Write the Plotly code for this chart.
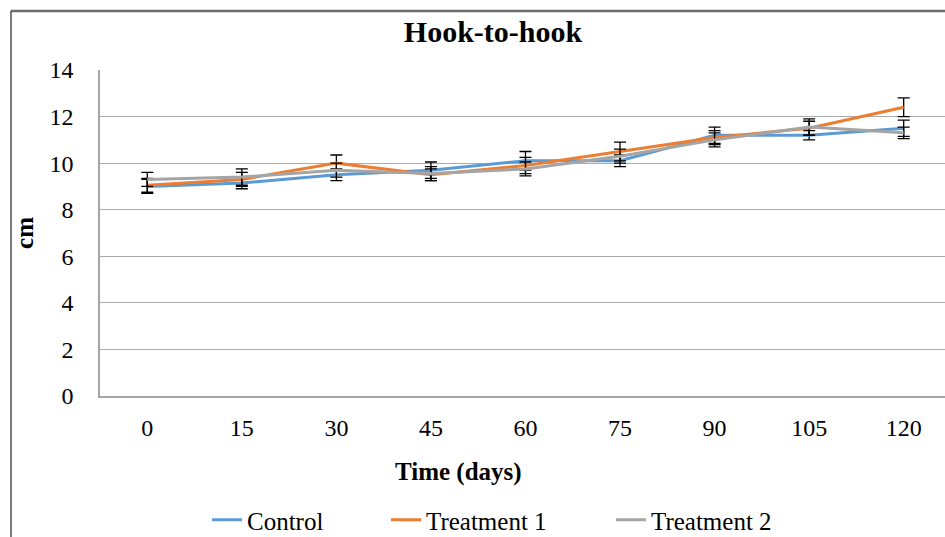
import plotly.graph_objects as go

days = ["0", "15", "30", "45", "60", "75", "90", "105", "120"]
control = [9.0, 9.15, 9.5, 9.7, 10.1, 10.1, 11.2, 11.2, 11.5]
control_err = [0.3, 0.25, 0.25, 0.35, 0.4, 0.25, 0.35, 0.2, 0.35]
treat1 = [9.05, 9.3, 10.0, 9.5, 9.9, 10.5, 11.1, 11.5, 12.4]
treat1_err = [0.3, 0.3, 0.35, 0.25, 0.35, 0.4, 0.3, 0.3, 0.4]
treat2 = [9.3, 9.4, 9.7, 9.55, 9.75, 10.3, 11.0, 11.55, 11.3]
treat2_err = [0.3, 0.35, 0.3, 0.3, 0.3, 0.3, 0.3, 0.35, 0.25]

FONT = "Liberation Serif"

L, T, B = 100, 70, 141
PW, PH = 945 - L, 537 - T - B


def px_x(p):
    return (p - L) / PW


def px_y(p):
    return (537 - B - p) / PH


fig = go.Figure()
legend_ids = ["legend", "legend2", "legend3"]
for (name, vals, errs, color), lid in zip([
    ("Control", control, control_err, "#5B9BD5"),
    ("Treatment 1", treat1, treat1_err, "#ED7D31"),
    ("Treatment 2", treat2, treat2_err, "#A5A5A5"),
], legend_ids):
    fig.add_trace(go.Scatter(
        x=days, y=vals, name=name, mode="lines", legend=lid,
        line=dict(color=color, width=3),
        error_y=dict(type="data", array=errs, visible=True,
                     color="black", thickness=1.3, width=6),
    ))

leg_common = dict(orientation="h", yanchor="middle", y=px_y(520), xanchor="left",
                  font=dict(size=25, family=FONT, color="black"),
                  bgcolor="rgba(0,0,0,0)")

fig.update_layout(
    width=945, height=537,
    margin=dict(l=L, r=0, t=T, b=B, autoexpand=False),
    paper_bgcolor="white", plot_bgcolor="white",
    font=dict(family=FONT, color="black", size=24),
    title=dict(text="<b>Hook-to-hook</b>", font=dict(size=30, family=FONT, color="black"),
               x=493/945, xref="container", xanchor="center",
               y=1-31/537, yref="container", yanchor="middle"),
    showlegend=True,
    legend=dict(leg_common, x=px_x(207)),
    legend2=dict(leg_common, x=px_x(386)),
    legend3=dict(leg_common, x=px_x(611)),
    xaxis=dict(type="category", range=[-0.5, 8.437], showgrid=False,
               showline=True, linecolor="#A6A6A6", linewidth=1.5,
               ticks="", tickfont=dict(size=24, family=FONT, color="black"),
               ticklabelstandoff=9, zeroline=False, automargin=False),
    yaxis=dict(range=[0, 14], dtick=2, showgrid=True, gridcolor="#ABABAB",
               gridwidth=1.2, showline=True, linecolor="#A6A6A6", linewidth=1.5,
               ticks="", tickfont=dict(size=24, family=FONT, color="black"),
               ticklabelstandoff=20, zeroline=False, automargin=False,
               title=dict(text="<b>cm</b>", font=dict(size=25, family=FONT, color="black"),
                          standoff=9)),
)

fig.add_annotation(text="<b>Time (days)</b>", xref="paper", yref="paper",
                   x=px_x(458), y=px_y(472), xanchor="center",
                   yanchor="middle", showarrow=False,
                   font=dict(size=25, family=FONT, color="black"))

# chart frame (top and left edges visible)
fig.add_shape(type="line", xref="paper", yref="paper",
              x0=px_x(11), x1=1.0, y0=px_y(11), y1=px_y(11),
              line=dict(color="#6e6e6e", width=2.5))
fig.add_shape(type="line", xref="paper", yref="paper",
              x0=px_x(11), x1=px_x(11), y0=px_y(11), y1=px_y(540),
              line=dict(color="#222222", width=1.2))

fig.write_html("out.html", config={"displayModeBar": False},
               post_script="document.body.style.margin='0';document.body.style.overflow='hidden';")
